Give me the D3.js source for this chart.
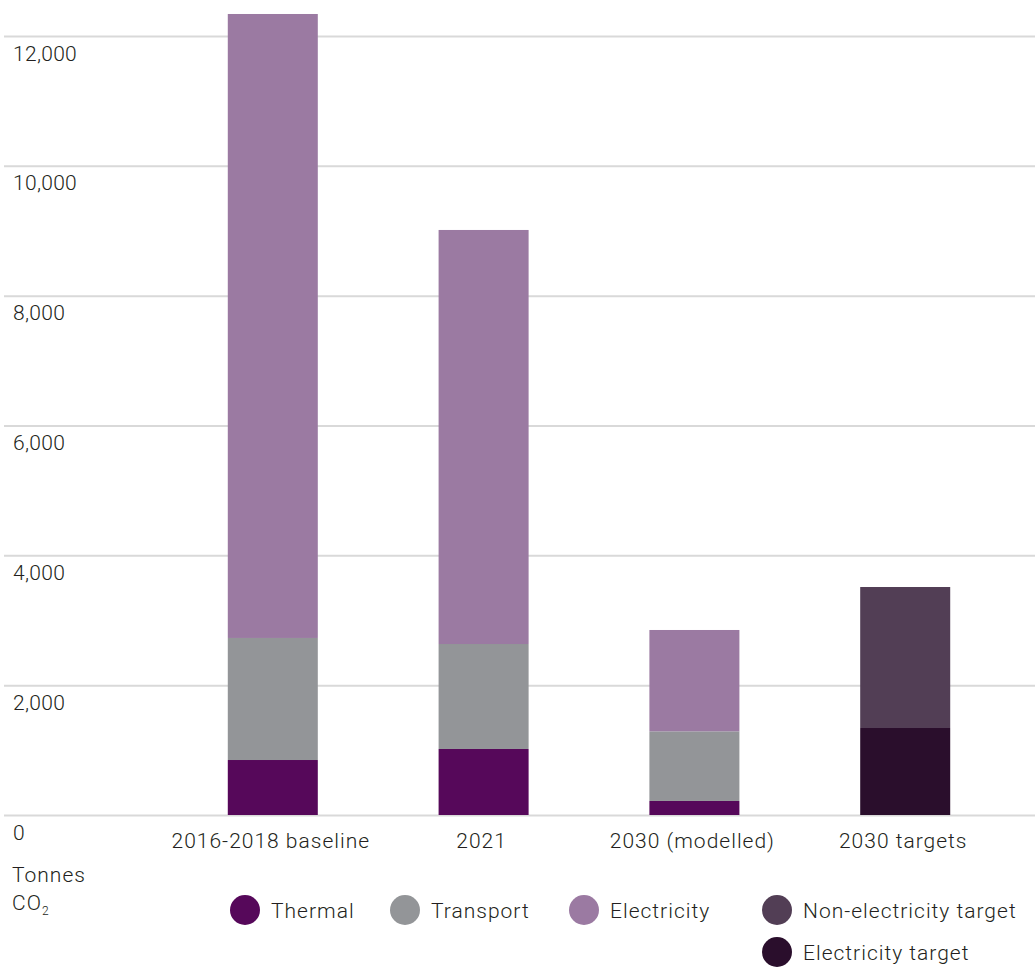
<!DOCTYPE html>
<html>
<head>
<meta charset="utf-8">
<script src="https://cdn.jsdelivr.net/npm/d3@7"></script>
<style>
	body { margin: 0; background: #fff; }
	svg text { font-family: Roboto, "DejaVu Sans", sans-serif; font-weight: 300; fill: #231f20; }
	.label { letter-spacing: 1px; }
	.ylabel { letter-spacing: 0.3px; }
</style>
</head>
<body>
<svg id="chart" width="1035" height="967"></svg>
<script>
// values (tonnes CO2)
const categories = ["2016-2018 baseline", "2021", "2030 (modelled)", "2030 targets"]
const thermal = [847, 1017, 216, 0]
const transport = [1880, 1617, 1073, 0]
const electricity = [9612, 6378, 1561, 0]
const electricityTarget = [0, 0, 0, 1340]
const nonElectricityTarget = [0, 0, 0, 2172]
const yTicks = [0, 2000, 4000, 6000, 8000, 10000, 12000]

const series = [
	{ key: "thermal", name: "Thermal", values: thermal, color: "#56085a" },
	{ key: "transport", name: "Transport", values: transport, color: "#939598" },
	{ key: "electricity", name: "Electricity", values: electricity, color: "#9b7aa2" },
	{ key: "electricityTarget", name: "Electricity target", values: electricityTarget, color: "#2a0e2c" },
	{ key: "nonElectricityTarget", name: "Non-electricity target", values: nonElectricityTarget, color: "#523e55" }
]

const svg = d3.select("#chart")
const width = 1035

const x = d3.scaleBand()
	.domain(categories)
	.range([107, 1071])
	.paddingInner(0.573)
	.paddingOuter(0.573)

const y = d3.scaleLinear()
	.domain([0, 12000])
	.range([815, 36])

// gridlines + y labels
const yAxis = svg.append("g")
	.attr("transform", "translate(4,0)")
	.call(d3.axisRight(y).tickValues(yTicks).tickSize(width - 4).tickFormat(d3.format(",")))
yAxis.select(".domain").remove()
yAxis.selectAll(".tick line").attr("stroke", "#d9d9d9").attr("stroke-width", 2)
yAxis.selectAll(".tick text")
	.classed("ylabel", true)
	.attr("x", 9)
	.attr("dy", 24)
	.attr("font-size", 21)
	.attr("text-anchor", "start")
	.attr("fill", "#231f20")

// stacked bars
const rows = categories.map((c, i) => {
	const row = { category: c }
	series.forEach(s => { row[s.key] = s.values[i] })
	return row
})
const stacked = d3.stack().keys(series.map(s => s.key))(rows)
const colorOf = d3.scaleOrdinal().domain(series.map(s => s.key)).range(series.map(s => s.color))

svg.append("g")
	.selectAll("g")
	.data(stacked)
	.join("g")
	.attr("fill", d => colorOf(d.key))
	.selectAll("rect")
	.data(d => d.filter(p => p[1] - p[0] > 0))
	.join("rect")
	.attr("x", d => x(d.data.category))
	.attr("width", x.bandwidth())
	.attr("y", d => y(d[1]))
	.attr("height", d => y(d[0]) - y(d[1]))

// x labels
const xAxis = svg.append("g")
	.attr("transform", "translate(0,815)")
	.call(d3.axisBottom(x).tickSize(0))
xAxis.select(".domain").remove()
xAxis.selectAll(".tick text")
	.classed("label", true)
	.attr("x", -2)
	.attr("y", 33)
	.attr("dy", 0)
	.attr("font-size", 21)
	.attr("fill", "#231f20")

// unit label
svg.append("text").attr("class", "label").attr("x", 12).attr("y", 882).attr("font-size", 21).text("Tonnes")
const co2 = svg.append("text").attr("class", "label").attr("x", 12).attr("y", 910).attr("font-size", 21)
co2.append("tspan").text("CO")
co2.append("tspan").attr("font-size", 12).attr("dy", 5).text("2")

// legend
const legendItems = [
	{ key: "thermal", x: 245, y: 910 },
	{ key: "transport", x: 405, y: 910 },
	{ key: "electricity", x: 584, y: 910 },
	{ key: "nonElectricityTarget", x: 777, y: 910 },
	{ key: "electricityTarget", x: 777, y: 952 }
]
const legend = svg.append("g")
	.selectAll("g")
	.data(legendItems)
	.join("g")
	.attr("transform", d => `translate(${d.x},${d.y})`)
legend.append("circle")
	.attr("r", 15)
	.attr("fill", d => colorOf(d.key))
legend.append("text")
	.attr("class", "label")
	.attr("x", 26)
	.attr("y", 8)
	.attr("font-size", 21)
	.text(d => series.find(s => s.key === d.key).name)
</script>
</body>
</html>
